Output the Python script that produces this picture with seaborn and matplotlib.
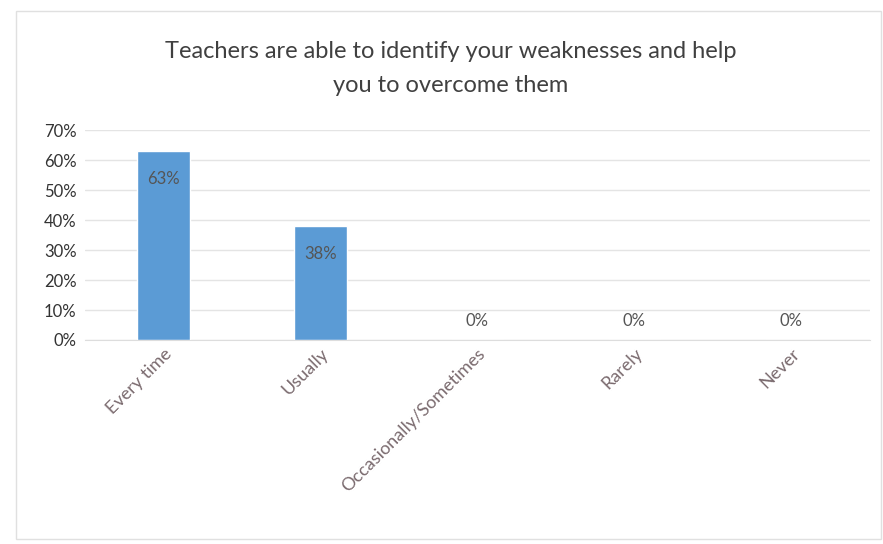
import matplotlib
matplotlib.use("Agg")
import matplotlib.pyplot as plt
import seaborn as sns
import pandas as pd
from matplotlib.patches import Rectangle

# chart data
categories = ["Every time", "Usually", "Occasionally/Sometimes", "Rarely", "Never"]
percent = [63, 38, 0, 0, 0]
yticks = [0, 10, 20, 30, 40, 50, 60, 70]
title = "Teachers are able to identify your weaknesses and help\nyou to overcome them"

sns.set_style("white")
plt.rcParams["font.family"] = ["Lato", "DejaVu Sans"]

df = pd.DataFrame({"answer": categories, "pct": percent})

fig = plt.figure(figsize=(8.83, 5.44), dpi=100)
ax = fig.add_axes([0.096, 0.375, 0.889, 0.386])

sns.barplot(data=df, x="answer", y="pct", color="#5B9BD5", width=0.34,
            saturation=1, ax=ax)

ax.set_ylim(0, 70)
ax.set_yticks(yticks)
ax.set_yticklabels([f"{t}%" for t in yticks], fontsize=12, color="#333333")
ax.set_xticks(range(len(categories)))
ax.set_xticklabels(categories, rotation=45, ha="right", rotation_mode="anchor",
                   fontsize=13, color="#7a6a6e")
ax.tick_params(axis="y", length=0, pad=6)
ax.tick_params(axis="x", length=0, pad=4)
for lbl in ax.get_xticklabels():
    lbl.set_x(lbl.get_position()[0])
ax.set_xlabel("")
ax.set_ylabel("")
ax.yaxis.grid(True, color="#e4e4e4", linewidth=1)
ax.set_axisbelow(True)
for s in ["top", "right", "left"]:
    ax.spines[s].set_visible(False)
ax.spines["bottom"].set_color("#dddddd")

# data labels: inside end for bars, above baseline for zeros
for i, v in enumerate(percent):
    off = -20 if v > 0 else 14
    ax.annotate(f"{v}%", (i, v), xytext=(0, off), textcoords="offset points",
                ha="center", va="center", fontsize=12, color="#555555")

fig.text(0.51, 0.874, title, ha="center", va="center", fontsize=17,
         color="#404040", linespacing=1.75)

fig.patches.append(Rectangle((0.018, 0.01), 0.98, 0.97, transform=fig.transFigure,
                             fill=False, edgecolor="#e0e0e0", linewidth=1))

fig.savefig("out.png", dpi=100)
